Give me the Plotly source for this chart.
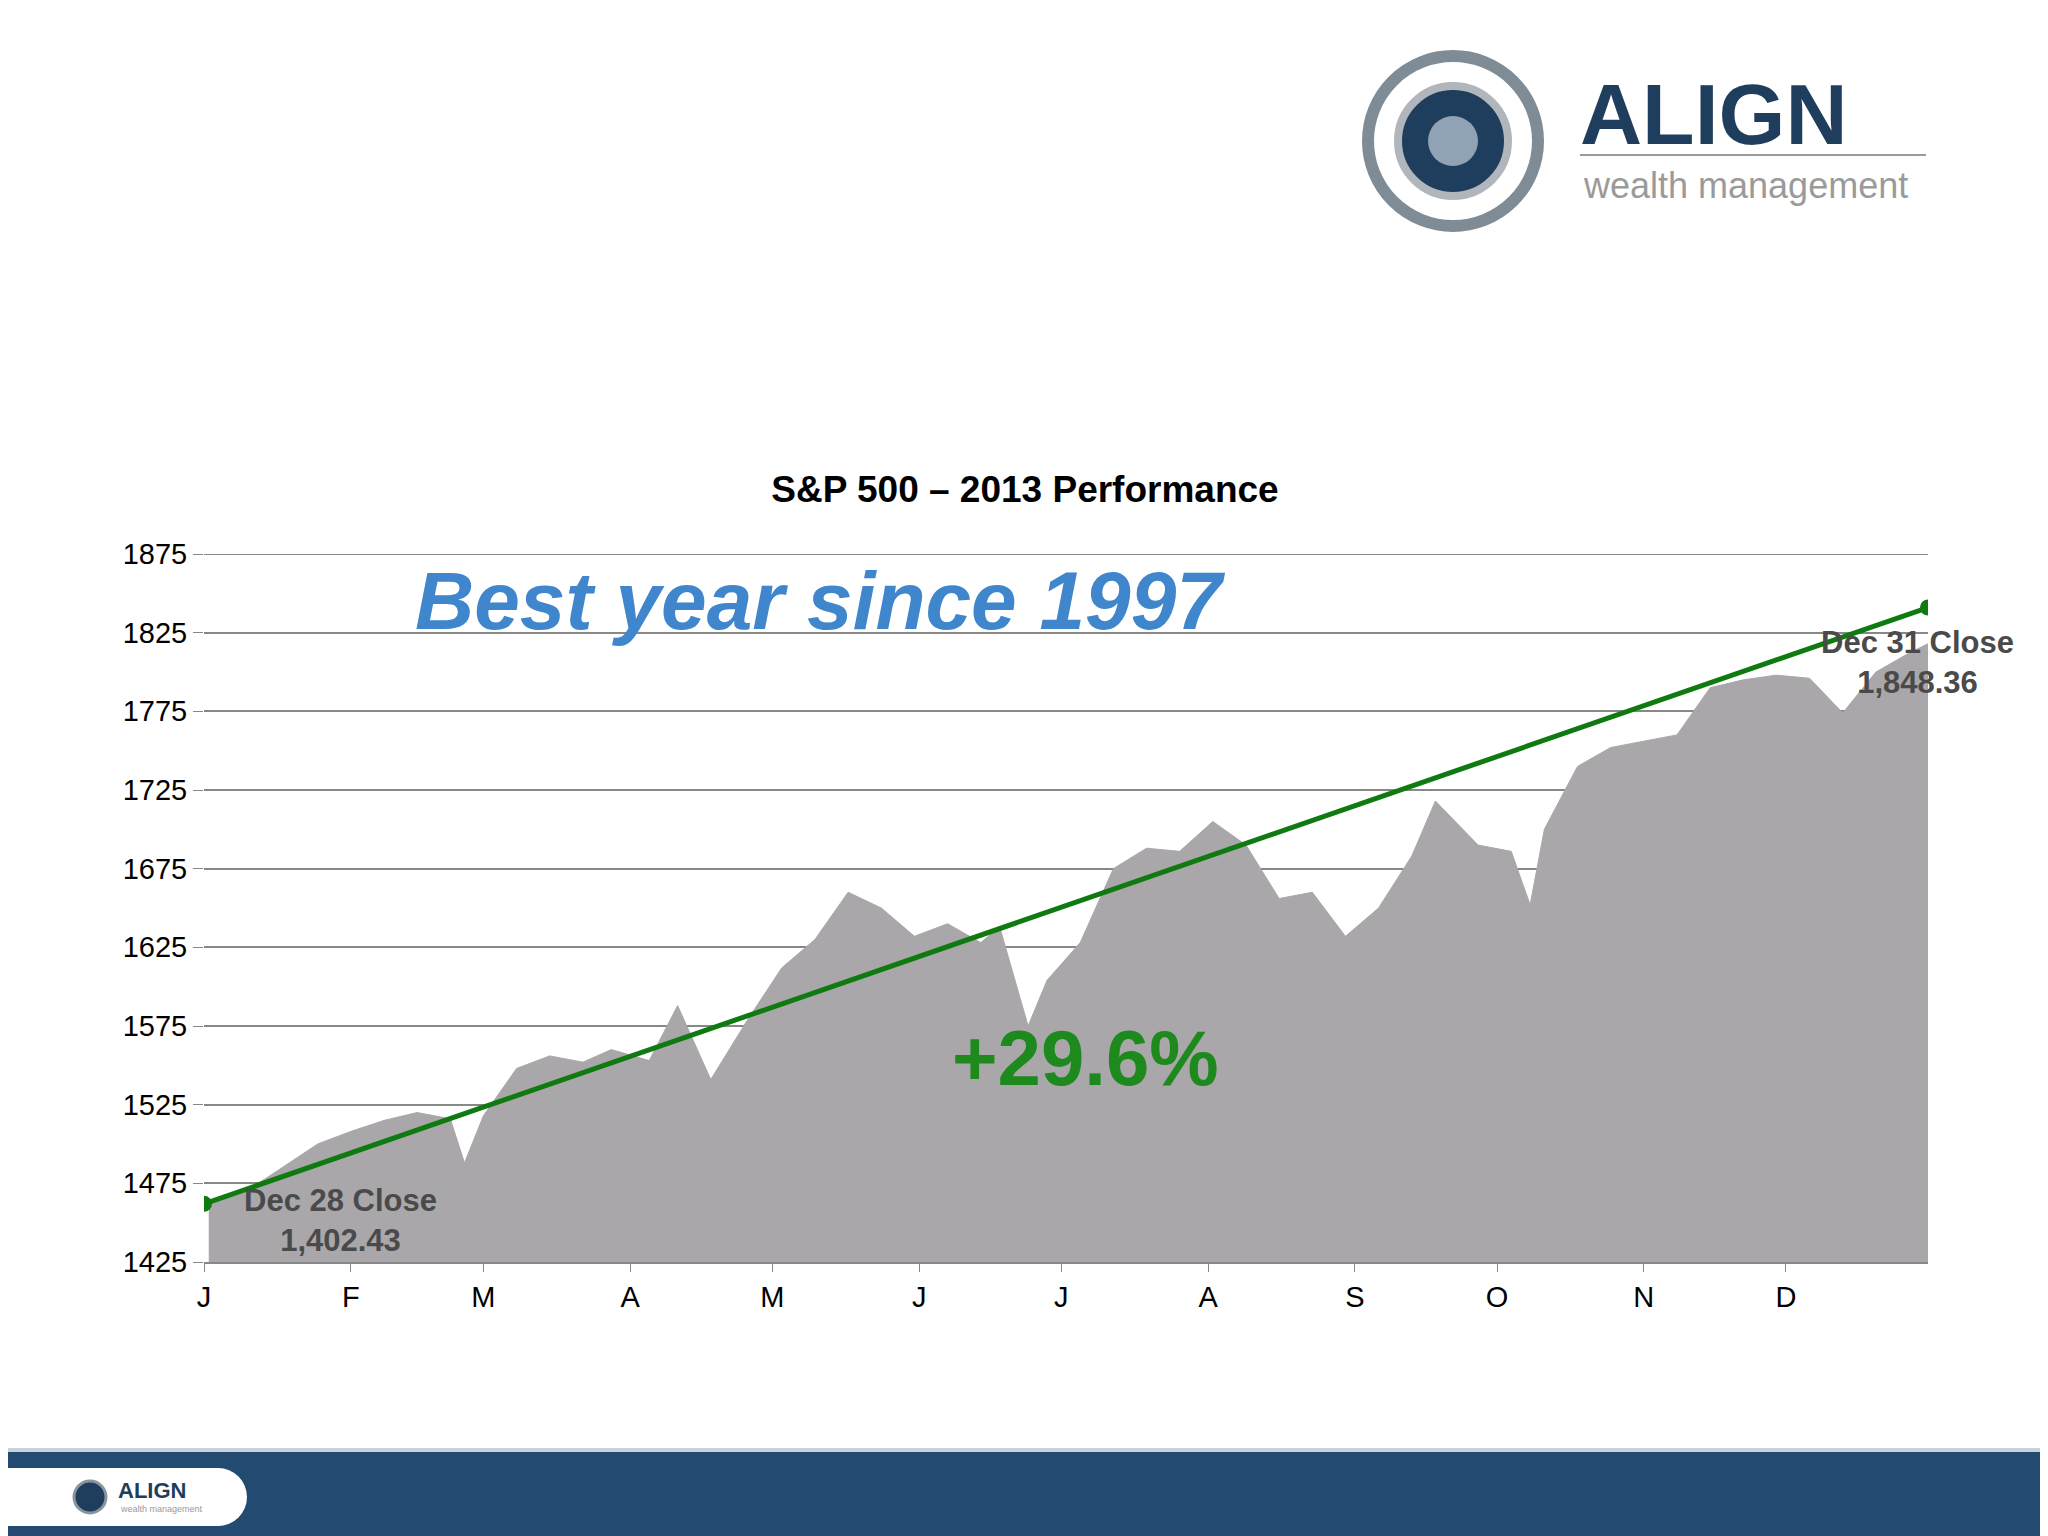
import pandas as pd
import plotly.graph_objects as go

# weekly closes (approx)
dates = ["2013-01-02", "2013-01-11", "2013-01-18", "2013-01-25", "2013-02-01", "2013-02-08",
         "2013-02-15", "2013-02-22", "2013-02-25", "2013-03-01", "2013-03-08", "2013-03-15",
         "2013-03-22", "2013-03-28", "2013-04-05", "2013-04-11", "2013-04-18", "2013-04-26",
         "2013-05-03", "2013-05-10", "2013-05-17", "2013-05-24", "2013-05-31", "2013-06-07",
         "2013-06-14", "2013-06-18", "2013-06-24", "2013-06-28", "2013-07-05", "2013-07-12",
         "2013-07-19", "2013-07-26", "2013-08-02", "2013-08-09", "2013-08-16", "2013-08-23",
         "2013-08-30", "2013-09-06", "2013-09-13", "2013-09-18", "2013-09-27", "2013-10-04",
         "2013-10-08", "2013-10-11", "2013-10-18", "2013-10-25", "2013-11-01", "2013-11-08",
         "2013-11-15", "2013-11-22", "2013-11-29", "2013-12-06", "2013-12-13", "2013-12-20",
         "2013-12-27", "2013-12-31"]
closes = [1462, 1472, 1486, 1500, 1508, 1515, 1520, 1516, 1488, 1518, 1548, 1556,
          1552, 1560, 1553, 1588, 1541, 1580, 1612, 1630, 1660, 1650, 1632, 1640,
          1628, 1638, 1575, 1604, 1628, 1675, 1688, 1686, 1705, 1690, 1656, 1660,
          1632, 1650, 1683, 1718, 1690, 1686, 1652, 1700, 1740, 1752, 1756, 1760,
          1790, 1795, 1798, 1796, 1774, 1800, 1812, 1818]
line_x = ["2013-01-01", "2013-12-31"]
line_y = [1462, 1841]
month_ticks = pd.date_range("2013-01-01", periods=12, freq="MS")
month_labels = ["J", "F", "M", "A", "M", "J", "J", "A", "S", "O", "N", "D"]

W, H = 2048, 1536
L, R, T, B = 196, 128, 546, 282
def px(x): return (x - L) / (W - L - R)
def py(y): return (H - B - y) / (H - T - B)

fig = go.Figure()
fig.add_trace(go.Scatter(x=pd.to_datetime(dates), y=closes, mode="lines", fill="tozeroy",
                         line=dict(color="#a9a7aa", width=1), fillcolor="#a9a7aa"))
fig.add_trace(go.Scatter(x=pd.to_datetime(line_x), y=line_y, mode="lines+markers",
                         line=dict(color="#0f7a0f", width=5), marker=dict(size=16, color="#0f7a0f")))

fig.update_layout(
    width=W, height=H, showlegend=False, plot_bgcolor="white", paper_bgcolor="white",
    margin=dict(l=L, r=R, t=T, b=B),
    font=dict(family="Liberation Sans, Arial", color="black"),
    title=dict(text="<b>S&P 500 – 2013 Performance</b>", x=px(1017), xref="paper",
               xanchor="center", y=1 - 481 / H, yanchor="middle", font=dict(size=37)),
    xaxis=dict(range=["2013-01-01", "2013-12-31"], tickvals=month_ticks, ticktext=month_labels,
               tickfont=dict(size=29), showgrid=False, showline=True, linecolor="#888",
               linewidth=2, ticks="outside", ticklen=8, tickcolor="#888"),
    yaxis=dict(range=[1425, 1875], tick0=1425, dtick=50, tickfont=dict(size=29), gridcolor="#888",
               gridwidth=2, showline=False, ticks="outside", ticklen=10, tickcolor="#888",
               zeroline=False),
)

ann = [
    dict(text="<b><i>Best year since 1997</i></b>", x=px(812), y=py(592),
         font=dict(size=82, color="#3f86cc", family="Liberation Sans")),
    dict(text="<b>+29.6%</b>", x=px(1077), y=py(1050),
         font=dict(size=78, color="#1e8a1e")),
    dict(text="<b>Dec 28 Close<br>1,402.43</b>", x=px(332), y=py(1212),
         font=dict(size=31, color="#4a4a4a")),
    dict(text="<b>Dec 31 Close<br>1,848.36</b>", x=px(1909), y=py(654),
         font=dict(size=31, color="#4a4a4a")),
    dict(text="<b>ALIGN</b>", x=px(1570), y=py(106), xanchor="left",
         font=dict(size=86, color="#1f3d5c")),
    dict(text="wealth management", x=px(1573), y=py(178), xanchor="left",
         font=dict(size=36, color="#9a9a9a")),
    dict(text="<b>ALIGN</b>", x=px(108), y=py(1482), xanchor="left",
         font=dict(size=22, color="#1f3d5c")),
    dict(text="wealth management", x=px(110), y=py(1501), xanchor="left",
         font=dict(size=9, color="#9a9a9a")),
]
for a in ann:
    a.setdefault("xanchor", "center")
    fig.add_annotation(xref="paper", yref="paper", showarrow=False, yanchor="middle", **a)

shapes = [
    dict(type="rect", x0=px(-20), x1=px(W + 20), y0=py(1441), y1=py(H + 20), fillcolor="#234a70",
         line_width=0, layer="below"),
    dict(type="rect", x0=px(-20), x1=px(W + 20), y0=py(1440), y1=py(1444), fillcolor="#c9d3dd",
         line_width=0),
    dict(type="rect", x0=px(-20), x1=px(212), y0=py(1460), y1=py(1518), fillcolor="white",
         line_width=0),
    dict(type="circle", x0=px(181), x1=px(239), y0=py(1460), y1=py(1518), fillcolor="white",
         line_width=0),
    dict(type="circle", x0=px(1360), x1=px(1530), y0=py(48), y1=py(218),
         fillcolor="white", line=dict(color="#7f8c96", width=12)),
    dict(type="circle", x0=px(1390), x1=px(1500), y0=py(78), y1=py(188),
         fillcolor="#1f3d5c", line=dict(color="#b0b6bb", width=8)),
    dict(type="circle", x0=px(1420), x1=px(1470), y0=py(108), y1=py(158),
         fillcolor="#8fa3b5", line_width=0),
    dict(type="line", x0=px(1572), x1=px(1918), y0=py(147), y1=py(147),
         line=dict(color="#9a9a9a", width=2)),
    dict(type="circle", x0=px(66), x1=px(98), y0=py(1473), y1=py(1505),
         fillcolor="#1f3d5c", line=dict(color="#8a949c", width=3)),
]
for s in shapes:
    fig.add_shape(xref="paper", yref="paper", **s)

# top gridline at the range edge
fig.add_shape(type="line", xref="paper", yref="y", x0=0, x1=1, y0=1875, y1=1875,
              line=dict(color="#888", width=2))

fig.write_html("out.html")
